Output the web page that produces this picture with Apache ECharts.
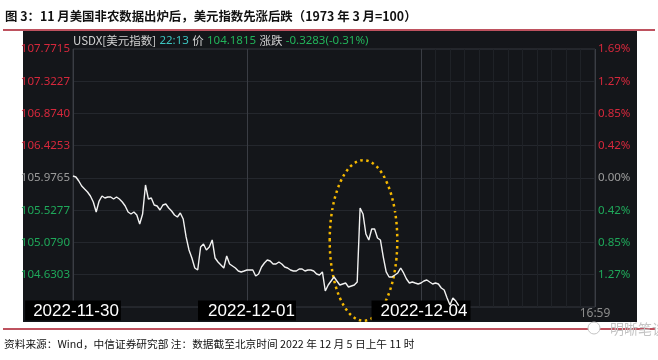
<!DOCTYPE html>
<html><head><meta charset="utf-8">
<style>html,body{margin:0;padding:0;background:#fff}#c{width:658px;height:360px}</style>
<script src="https://cdn.jsdelivr.net/npm/echarts@6/dist/echarts.min.js"></script>
</head><body><div id="c"></div>
<script>
// ---- data ----
const dayLabels = ['2022-11-30', '2022-12-01', '2022-12-04'];
const endLabel = '16:59';
const slotsPerDay = 60;
const usdx = [
  106.004,105.990,105.935,105.865,105.823,105.782,105.726,105.643,105.503,105.656,
  105.726,105.698,105.712,105.712,105.684,105.712,105.684,105.643,105.587,105.503,
  105.476,105.503,105.462,105.336,105.476,105.879,105.684,105.698,105.601,105.587,
  105.531,105.601,105.615,105.559,105.517,105.462,105.434,105.489,105.406,105.156,
  104.975,104.863,104.724,104.696,105.016,105.058,104.975,105.016,105.114,104.863,
  104.808,104.766,104.724,104.891,104.780,104.752,104.724,104.682,104.669,104.682,
  104.696,104.696,104.696,104.613,104.641,104.738,104.794,104.835,104.822,104.780,
  104.780,104.808,104.780,104.738,104.724,104.696,104.682,104.682,104.710,104.710,
  104.682,104.696,104.696,104.682,104.641,104.627,104.669,104.404,104.488,104.543,
  104.599,104.543,104.488,104.502,104.515,104.460,104.474,104.488,104.529,105.559,
  105.476,105.197,105.114,105.267,105.267,105.142,105.114,104.877,104.669,104.599,
  104.599,104.627,104.655,104.724,104.655,104.571,104.515,104.529,104.515,104.502,
  104.515,104.543,104.557,104.529,104.502,104.515,104.502,104.446,104.418,104.307,
  104.209,104.307,104.265,104.200
];
const yMin = 104.1815, yMax = 107.7715, yStep = 0.44875;
const leftTicks  = ['', '104.6303', '105.0790', '105.5277', '105.9765', '106.4253', '106.8740', '107.3227', '107.7715'];
const rightTicks = ['', '1.27%', '0.85%', '0.42%', '0.00%', '0.42%', '0.85%', '1.27%', '1.69%'];
const baseTick = 4;

// categories: time slots across three sessions
const categories = [];
for (let d = 0; d < dayLabels.length; d++) for (let s = 0; s < slotsPerDay; s++) categories.push(d + '-' + s);
categories.push('end');

const chart = echarts.init(document.getElementById('c'), null, {renderer: 'canvas'});
const RED = '#d6283c', GREEN = '#1fa85a', GRAY = '#9c9c9c';
function tickIdx(v) { return Math.round((v - yMin) / yStep); }
function tickStyle(i) { return i > baseTick ? 'r' : (i === baseTick ? 'g' : 'n'); }
const yRich = {
  r: {color: RED, fontSize: 11.5, fontFamily: 'Noto Sans'},
  g: {color: GRAY, fontSize: 11.5, fontFamily: 'Noto Sans'},
  n: {color: GREEN, fontSize: 11.5, fontFamily: 'Noto Sans'}
};
const dateBase = {color: '#fff', backgroundColor: '#000', fontSize: 17, fontFamily: 'Liberation Sans', lineHeight: 17};

const option = {
  backgroundColor: '#fff',
  animation: false,
  grid: {left: 73, right: 63, top: 49, bottom: 53, show: true, borderColor: '#34373d', borderWidth: 1, backgroundColor: 'transparent'},
  xAxis: [{
    type: 'category', data: categories, boundaryGap: false,
    axisLine: {show: false}, axisTick: {show: false},
    splitLine: {show: true, interval: (i) => i % slotsPerDay === 0, lineStyle: {color: '#3a3d44', width: 1}},
    axisLabel: {
      interval: (i) => i % slotsPerDay === 0, margin: -5,
      formatter: (v, i) => {
        const d = Math.round(i / slotsPerDay);
        return d < dayLabels.length ? '{d' + d + '|' + dayLabels[d] + '}' : '{t|' + endLabel + '}';
      },
      rich: {
        d0: Object.assign({}, dateBase, {padding: [2, 2, 1, 8]}),
        d1: Object.assign({}, dateBase, {padding: [2, 1, 1, 10]}),
        d2: Object.assign({}, dateBase, {padding: [2, 3, 1, 9]}),
        t: {color: '#8c8c8c', fontSize: 12, fontFamily: 'Noto Sans', padding: [6, 0, 0, 0]}
      }
    }
  }, {
    type: 'category', data: categories, boundaryGap: false, position: 'bottom',
    axisLine: {show: false}, axisTick: {show: false}, axisLabel: {show: false},
    splitLine: {show: true, interval: (i) => i > 2 * slotsPerDay && i < 3 * slotsPerDay && i % 5 === 0, lineStyle: {color: '#1f2227', width: 1}}
  }],
  yAxis: [{
    type: 'value', position: 'left', min: yMin, max: yMax, interval: yStep,
    axisLine: {show: false}, axisTick: {show: false},
    splitLine: {lineStyle: {color: '#24272d'}},
    axisLabel: {margin: 3, formatter: (v) => { const i = tickIdx(v); return leftTicks[i] ? '{' + tickStyle(i) + '|' + leftTicks[i] + '}' : ''; }, rich: yRich}
  }, {
    type: 'value', position: 'right', min: yMin, max: yMax, interval: yStep,
    axisLine: {show: false}, axisTick: {show: false}, splitLine: {show: false},
    axisLabel: {margin: 3, formatter: (v) => { const i = tickIdx(v); return rightTicks[i] ? '{' + tickStyle(i) + '|' + rightTicks[i] + '}' : ''; }, rich: yRich}
  }],
  series: [{
    type: 'line', data: usdx, xAxisIndex: 0, yAxisIndex: 0, showSymbol: false, symbol: 'none',
    lineStyle: {color: '#f2f2f2', width: 1.4}, z: 3
  }],
  graphic: [
    {id: 'panel', type: 'rect', z: -10, shape: {x: 23, y: 31, width: 614, height: 291}, style: {fill: '#14161a'}},
    {id: 'title', type: 'text', x: 5, y: 16, style: {text: '图 3：11 月美国非农数据出炉后，美元指数先涨后跌（1973 年 3 月=100）', fill: '#111', font: 'bold 12.4px "Noto Sans CJK SC"', textVerticalAlign: 'middle'}},
    {id: 'rule1', type: 'line', shape: {x1: 3, y1: 30, x2: 655, y2: 30}, style: {stroke: '#a8182a', lineWidth: 1.5}},
    {id: 'rule2', type: 'line', shape: {x1: 3, y1: 329, x2: 655, y2: 329}, style: {stroke: '#a8182a', lineWidth: 1.5}},
    {id: 'source', type: 'text', x: 4, y: 344, style: {text: '资料来源：Wind，中信证券研究部 注：数据截至北京时间 2022 年 12 月 5 日上午 11 时', fill: '#111', font: '10.7px "Noto Sans CJK SC"', textVerticalAlign: 'middle'}},
    {id: 'header', type: 'text', x: 73, y: 41, style: {
      text: '{a|USDX[美元指数]} {b|22:13} {a|价} {c|104.1815} {a|涨跌} {c|-0.3283(-0.31%)}',
      textVerticalAlign: 'middle',
      rich: {
        a: {fill: '#d2d2d2', fontSize: 11.5, fontFamily: 'Noto Sans CJK SC'},
        b: {fill: '#3cc4bf', fontSize: 11.5, fontFamily: 'Noto Sans'},
        c: {fill: '#22b35a', fontSize: 11.5, fontFamily: 'Noto Sans'}
      }
    }},
    {id: 'wmIcon', type: 'circle', z: 5, shape: {cx: 594, cy: 328, r: 6}, style: {fill: '#fff', stroke: '#c4c4c4', lineWidth: 1}},
    {id: 'wm', type: 'text', z: 5, x: 610, y: 329, style: {text: '明晰笔谈', fill: '#c4c4c4', font: '14px "Noto Sans CJK SC"', textVerticalAlign: 'middle'}}
  ]
};
chart.setOption(option);

// annotation ellipse anchored to data coordinates around the spike
const c = chart.convertToPixel({xAxisIndex: 0, yAxisIndex: 0}, [100, 105.107]);
const p = chart.convertToPixel({xAxisIndex: 0, yAxisIndex: 0}, [111.6, 103.99]);
chart.setOption({graphic: [{
  id: 'ellipse', type: 'ellipse', z: -1,
  shape: {cx: c[0] + 0.5, cy: c[1], rx: p[0] - c[0] - 1, ry: p[1] - c[1]},
  style: {fill: 'none', stroke: '#f5b800', lineWidth: 2.5, lineDash: [2.5, 3.5]}
}]});
</script></body></html>
